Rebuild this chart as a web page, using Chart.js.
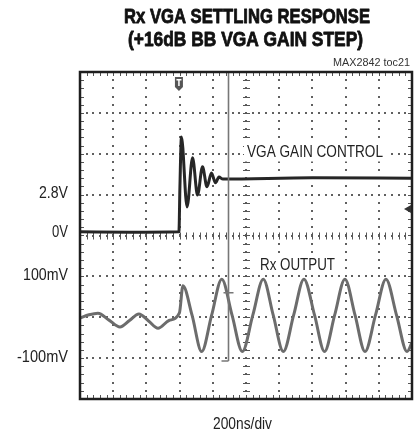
<!DOCTYPE html>
<html>
<head>
<meta charset="utf-8">
<script src="https://cdn.jsdelivr.net/npm/chart.js@4.4.1/dist/chart.umd.min.js"></script>
<style>
  html, body { margin: 0; padding: 0; background: #fff; }
  #wrap { width: 414px; height: 436px; position: relative; }
</style>
</head>
<body>
<div id="wrap"><canvas id="scope" width="414" height="436"></canvas></div>
<script>
// Horizontal: time in ns, 200 ns per division, 10 divisions.
const timeMin = 0;
const timeMax = 2000;
const nsPerDiv = 200;

// Vertical graticule: 8 divisions, centre = 0.
const divMin = -4;
const divMax = 4;

// Channel 1: VGA gain-control step, in screen divisions.
const gainTime  = [0, 300, 596, 602, 611, 645, 678, 708, 738, 765, 792, 816, 837, 861, 1400, 2000];
const gainLevel = [0.09, 0.08, 0.09, 1.20, 2.41, 0.70, 1.90, 0.99, 1.68, 1.19, 1.53, 1.29, 1.43, 1.38, 1.41, 1.40];

// Channel 2: Rx baseband output, in mV (100 mV/div, 0 mV two divisions below centre).
const rxTime = [0, 54, 108, 175, 241, 298, 355, 413, 470, 536, 599,
                620, 675, 733, 793, 854, 916, 978, 1041, 1104, 1164, 1225,
                1287, 1349, 1413, 1473, 1534, 1596, 1657, 1717, 1780, 1843, 1907, 1970, 2000];
const rxMilliVolts = [-2, 6, 10, -7, -24, -8, 8, -9, -27, -8, 11,
                      77, 5, -84, 5, 93, 5, -84, 5, 93, 5, -84,
                      5, 93, 5, -84, 5, 93, 5, -84, 5, 93, 5, -84, -62];

// Markers on the screen.
const triggerTime = 596;
const cursorTime = 892;
const cursorBottomDiv = -3.07;
const cursorMarkDiv = -1.4;
const rightMarkerDiv = 0.65;

// Left-hand level labels and where they sit (divisions).
const levelLabels = ['2.8V', '0V', '100mV', '-100mV'];
const levelDivs   = [1.04, 0.09, -0.98, -2.98];
const levelWidths = [29, 16, 45, 51];

function toPoints(xs, ys) { return xs.map((x, i) => ({ x: x, y: ys[i] })); }

// Draw text squeezed horizontally to a given width (condensed face look).
function drawFit(ctx, text, x, y, font, width, align, color, box, heavy) {
  ctx.save();
  ctx.font = font;
  const w = ctx.measureText(text).width;
  const sx = width / w;
  let left = x;
  if (align === 'center') left = x - width / 2;
  if (align === 'right') left = x - width;
  if (box) {
    ctx.fillStyle = '#fff';
    ctx.fillRect(left - 3, y - box / 2, width + 6, box);
  }
  ctx.translate(left, y);
  ctx.scale(sx, 1);
  ctx.fillStyle = color;
  ctx.textAlign = 'left';
  ctx.textBaseline = 'middle';
  ctx.fillText(text, 0, 0);
  if (heavy) {
    ctx.strokeStyle = color;
    ctx.lineWidth = heavy;
    ctx.lineJoin = 'round';
    ctx.strokeText(text, 0, 0);
  }
  ctx.restore();
}

// Dotted oscilloscope graticule with minor ticks on the centre lines and frame.
const graticule = {
  id: 'graticule',
  beforeDatasetsDraw(chart) {
    const { ctx, chartArea: a, scales } = chart;
    const xs = scales.x, ys = scales.y;
    ctx.save();
    ctx.fillStyle = '#606060';
    const minorT = nsPerDiv / 5, minorD = 0.2;
    // horizontal dotted lines
    for (let d = divMin + 1; d < divMax; d++) {
      const py = Math.round(ys.getPixelForValue(d));
      for (let t = timeMin + minorT; t < timeMax; t += minorT) {
        const px = Math.round(xs.getPixelForValue(t));
        ctx.fillRect(px - 1, py - 1, 2, 2);
      }
    }
    // vertical dotted lines
    for (let t = timeMin + nsPerDiv; t < timeMax; t += nsPerDiv) {
      const px = Math.round(xs.getPixelForValue(t));
      for (let d = divMin + minorD; d < divMax - 1e-6; d += minorD) {
        const py = Math.round(ys.getPixelForValue(d));
        ctx.fillRect(px - 1, py - 1, 2, 2);
      }
    }
    // minor ticks on centre lines and frame
    ctx.strokeStyle = '#555';
    ctx.lineWidth = 1;
    ctx.beginPath();
    const cx = xs.getPixelForValue((timeMin + timeMax) / 2);
    const cy = ys.getPixelForValue(0);
    for (let d = divMin + minorD; d < divMax - 1e-6; d += minorD) {
      const py = Math.round(ys.getPixelForValue(d)) + 0.5;
      ctx.moveTo(cx - 3, py); ctx.lineTo(cx + 4, py);
      ctx.moveTo(a.left, py); ctx.lineTo(a.left + 4, py);
      ctx.moveTo(a.right - 4, py); ctx.lineTo(a.right, py);
    }
    for (let t = timeMin + minorT; t < timeMax; t += minorT) {
      const px = Math.round(xs.getPixelForValue(t)) + 0.5;
      ctx.moveTo(px, cy - 3); ctx.lineTo(px, cy + 4);
      ctx.moveTo(px, a.top); ctx.lineTo(px, a.top + 4);
      ctx.moveTo(px, a.bottom - 4); ctx.lineTo(px, a.bottom);
    }
    ctx.stroke();
    ctx.restore();
  },
  afterDatasetsDraw(chart) {
    const { ctx, chartArea: a, scales } = chart;
    const xs = scales.x, ys = scales.y;
    ctx.save();
    // cursor line
    const cux = Math.round(xs.getPixelForValue(cursorTime)) + 0.5;
    ctx.strokeStyle = '#777';
    ctx.lineWidth = 1.6;
    ctx.beginPath();
    ctx.moveTo(cux, a.top);
    ctx.lineTo(cux, ys.getPixelForValue(cursorBottomDiv));
    const my = ys.getPixelForValue(cursorMarkDiv);
    ctx.moveTo(cux - 5, my); ctx.lineTo(cux + 5, my);
    const by = ys.getPixelForValue(cursorBottomDiv);
    ctx.moveTo(cux - 7, by); ctx.lineTo(cux, by);
    ctx.stroke();

    // frame
    ctx.strokeStyle = '#1e1e1e';
    ctx.lineWidth = 2.5;
    ctx.strokeRect(a.left, a.top, a.right - a.left, a.bottom - a.top);

    // trigger marker
    const tx = xs.getPixelForValue(triggerTime);
    ctx.fillStyle = '#555';
    ctx.beginPath();
    ctx.moveTo(tx - 4, a.top + 5);
    ctx.lineTo(tx + 4, a.top + 5);
    ctx.lineTo(tx + 4, a.top + 15);
    ctx.lineTo(tx, a.top + 19);
    ctx.lineTo(tx - 4, a.top + 15);
    ctx.closePath();
    ctx.fill();
    ctx.fillStyle = '#fff';
    ctx.fillRect(tx - 2.5, a.top + 7, 5, 1.5);
    ctx.fillRect(tx - 0.75, a.top + 7, 1.5, 7);

    // channel reference marker on right edge
    const ry = ys.getPixelForValue(rightMarkerDiv);
    ctx.fillStyle = '#333';
    ctx.beginPath();
    ctx.moveTo(a.right - 8, ry);
    ctx.lineTo(a.right - 1, ry - 4);
    ctx.lineTo(a.right - 1, ry + 4);
    ctx.closePath();
    ctx.fill();

    // trace labels
    const lf = '17px "Liberation Sans", Arial, sans-serif';
    drawFit(ctx, 'VGA GAIN CONTROL', 315, 152.5, lf, 136, 'center', '#222', 18);
    drawFit(ctx, 'Rx OUTPUT', 297.5, 265, lf, 75, 'center', '#222', 18);

    // level labels
    levelLabels.forEach((s, i) => {
      drawFit(ctx, s, 68, ys.getPixelForValue(levelDivs[i]), lf, levelWidths[i], 'right', '#222');
    });

    // titles and captions
    const tf = 'bold 20px "Liberation Sans", Arial, sans-serif';
    drawFit(ctx, 'Rx VGA SETTLING RESPONSE', 247, 17, tf, 246, 'center', '#111', null, 0.8);
    drawFit(ctx, '(+16dB BB VGA GAIN STEP)', 245.5, 40, tf, 235, 'center', '#111', null, 0.8);
    drawFit(ctx, 'MAX2842 toc21', 410, 63, '11px "Liberation Sans", Arial, sans-serif', 77, 'right', '#333');
    drawFit(ctx, '200ns/div', 242.5, 424, lf, 59, 'center', '#222');
    ctx.restore();
  }
};

new Chart(document.getElementById('scope'), {
  type: 'line',
  data: {
    datasets: [
      {
        label: 'Rx OUTPUT',
        data: toPoints(rxTime, rxMilliVolts),
        yAxisID: 'y2',
        borderColor: '#6c6c6c',
        borderWidth: 3,
        cubicInterpolationMode: 'monotone',
        pointRadius: 0,
        fill: false
      },
      {
        label: 'VGA GAIN CONTROL',
        data: toPoints(gainTime, gainLevel),
        yAxisID: 'y',
        borderColor: '#262626',
        borderWidth: 3,
        cubicInterpolationMode: 'monotone',
        pointRadius: 0,
        fill: false
      }
    ]
  },
  options: {
    responsive: false,
    animation: false,
    devicePixelRatio: 1,
    layout: { padding: { left: 80, right: 2, top: 72, bottom: 37 } },
    plugins: { legend: { display: false }, tooltip: { enabled: false }, title: { display: false } },
    scales: {
      x: { type: 'linear', min: timeMin, max: timeMax, display: false },
      y: { type: 'linear', min: divMin, max: divMax, display: false },
      y2: { type: 'linear', min: -200, max: 600, display: false }
    }
  },
  plugins: [graticule]
});
</script>
</body>
</html>
